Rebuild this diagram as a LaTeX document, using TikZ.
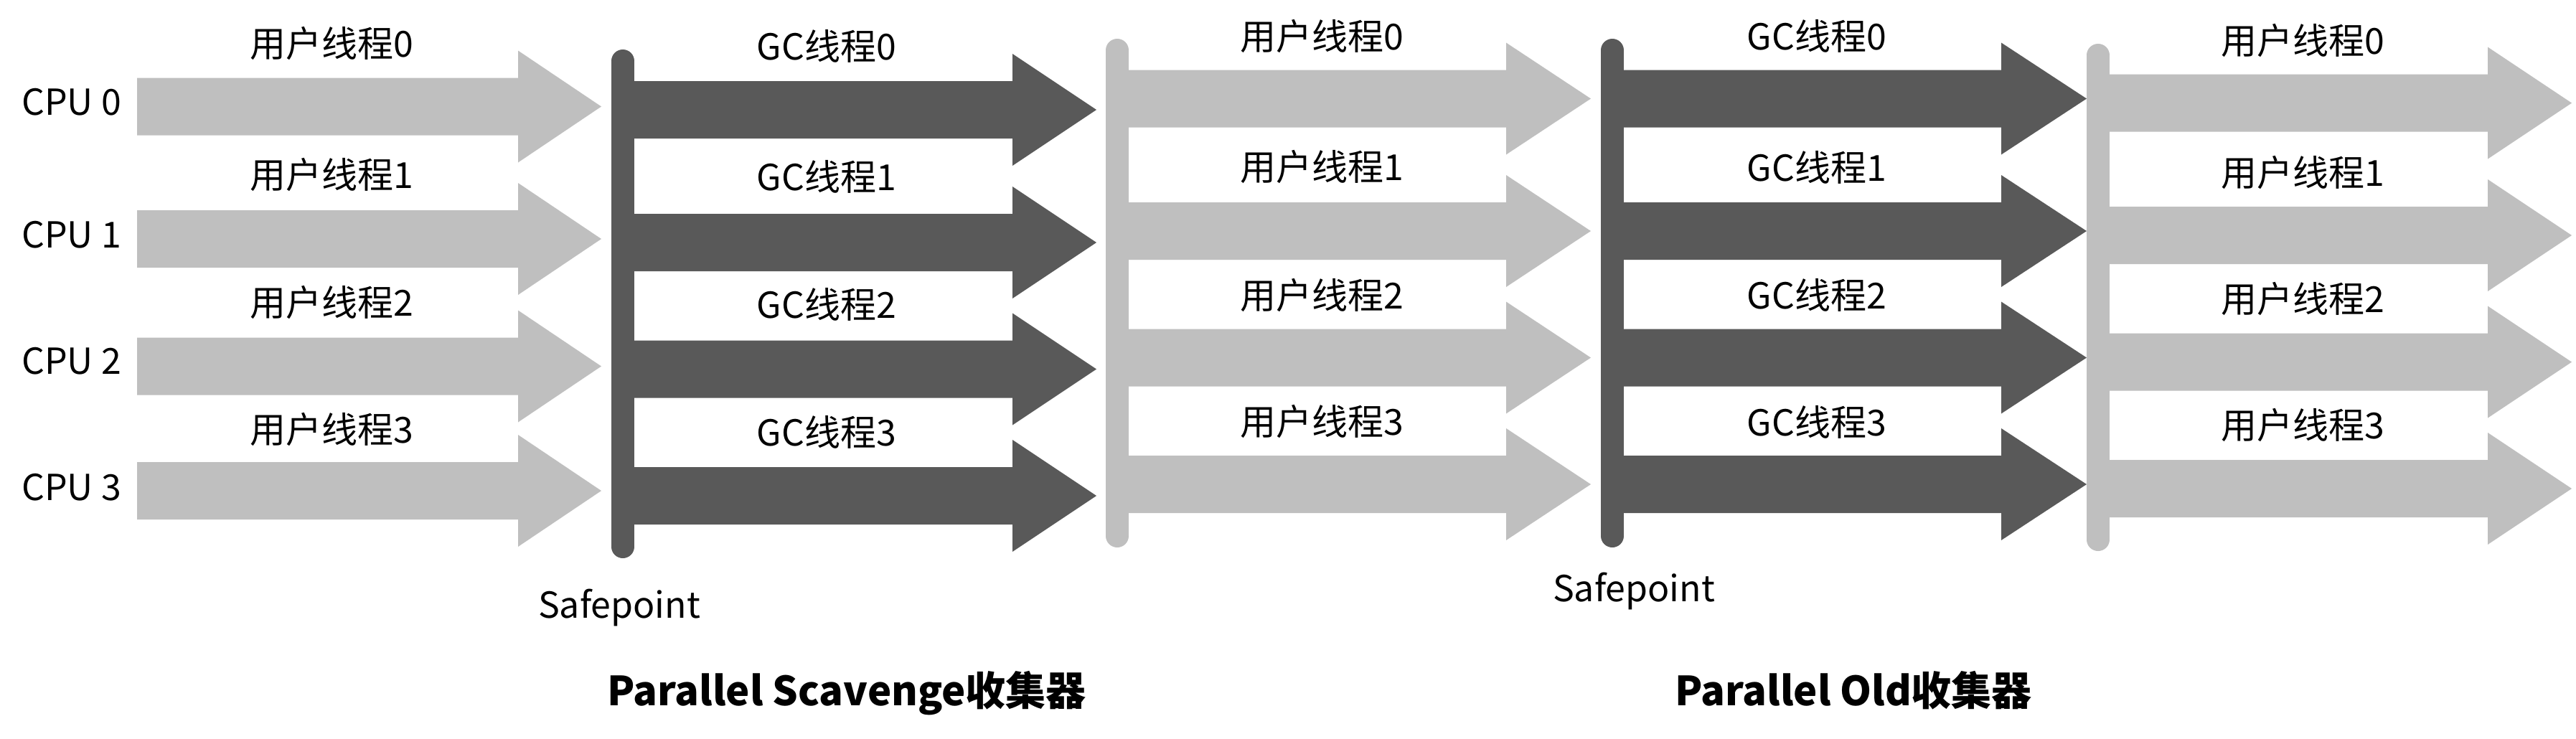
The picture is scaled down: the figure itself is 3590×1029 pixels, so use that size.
\documentclass[tikz,border=0pt]{standalone}
\usepackage{fontspec}
\setmainfont{Noto Sans CJK SC}
\definecolor{lightg}{HTML}{BFBFBF}
\definecolor{darkg}{HTML}{595959}
\newcommand\blockarr[5]{%
  \fill[#5] (#1,#4-40) -- (#2,#4-40) -- (#2,#4-78) -- (#3,#4) -- (#2,#4+78) -- (#2,#4+40) -- (#1,#4+40) -- cycle;}
\tikzset{
  lbl/.style={inner sep=0pt, anchor=base, font=\fontsize{50}{60}\selectfont},
  ttl/.style={inner sep=0pt, anchor=base, font=\fontsize{56}{66}\selectfont\bfseries},
  barline/.style={line width=32pt, line cap=round}
}
\begin{document}
\begin{tikzpicture}[x=1pt,y=-1pt]
\fill[white] (0,0) rectangle (3590,1029);
\useasboundingbox (0,0) rectangle (3590,1029);
% group 1: user threads (light)
\blockarr{191}{722}{838}{148.5}{lightg}
\blockarr{191}{722}{838}{333}{lightg}
\blockarr{191}{722}{838}{510.5}{lightg}
\blockarr{191}{722}{838}{684}{lightg}
% group 2: GC threads (dark)
\blockarr{868}{1411}{1528}{153}{darkg}
\blockarr{868}{1411}{1528}{338}{darkg}
\blockarr{868}{1411}{1528}{514.5}{darkg}
\blockarr{868}{1411}{1528}{691}{darkg}
\draw[barline, darkg] (868,85) -- (868,762);
% group 3: user threads (light)
\blockarr{1557}{2099}{2217}{137.5}{lightg}
\blockarr{1557}{2099}{2217}{322}{lightg}
\blockarr{1557}{2099}{2217}{498.5}{lightg}
\blockarr{1557}{2099}{2217}{675}{lightg}
\draw[barline, lightg] (1557,70) -- (1557,747);
% group 4: GC threads (dark)
\blockarr{2247}{2789}{2908}{137.5}{darkg}
\blockarr{2247}{2789}{2908}{322}{darkg}
\blockarr{2247}{2789}{2908}{498.5}{darkg}
\blockarr{2247}{2789}{2908}{675}{darkg}
\draw[barline, darkg] (2247,70) -- (2247,747);
% group 5: user threads (light)
\blockarr{2924}{3467}{3584}{143.6}{lightg}
\blockarr{2924}{3467}{3584}{328}{lightg}
\blockarr{2924}{3467}{3584}{504.6}{lightg}
\blockarr{2924}{3467}{3584}{681}{lightg}
\draw[barline, lightg] (2924,77) -- (2924,752);
% CPU labels
\node[lbl, anchor=base west] (cpu0) at (30,160) {CPU 0};
\node[lbl, anchor=base west] (cpu1) at (30,345) {CPU 1};
\node[lbl, anchor=base west] (cpu2) at (30,521) {CPU 2};
\node[lbl, anchor=base west] (cpu3) at (30,697) {CPU 3};
% group 1 labels
\node[lbl] (a0) at (462,79) {用户线程0};
\node[lbl] (a1) at (462,262) {用户线程1};
\node[lbl] (a2) at (462,440) {用户线程2};
\node[lbl] (a3) at (462,617) {用户线程3};
% group 2 labels
\node[lbl] (b0) at (1152,83) {GC线程0};
\node[lbl] (b1) at (1152,265) {GC线程1};
\node[lbl] (b2) at (1152,443) {GC线程2};
\node[lbl] (b3) at (1152,621) {GC线程3};
% group 3 labels
\node[lbl] (c0) at (1842,69) {用户线程0};
\node[lbl] (c1) at (1842,251) {用户线程1};
\node[lbl] (c2) at (1842,430) {用户线程2};
\node[lbl] (c3) at (1842,606) {用户线程3};
% group 4 labels
\node[lbl] (d0) at (2532,69) {GC线程0};
\node[lbl] (d1) at (2532,252) {GC线程1};
\node[lbl] (d2) at (2532,430) {GC线程2};
\node[lbl] (d3) at (2532,607) {GC线程3};
% group 5 labels
\node[lbl] (e0) at (3209,75) {用户线程0};
\node[lbl] (e1) at (3209,259) {用户线程1};
\node[lbl] (e2) at (3209,435) {用户线程2};
\node[lbl] (e3) at (3209,611) {用户线程3};
% safepoints and titles
\node[lbl] (sp1) at (863,861) {Safepoint};
\node[lbl] (sp2) at (2277,838) {Safepoint};
\node[ttl] (t1) at (1180,983) {Parallel Scavenge收集器};
\node[ttl] (t2) at (2583,983) {Parallel Old收集器};
\end{tikzpicture}
\end{document}
